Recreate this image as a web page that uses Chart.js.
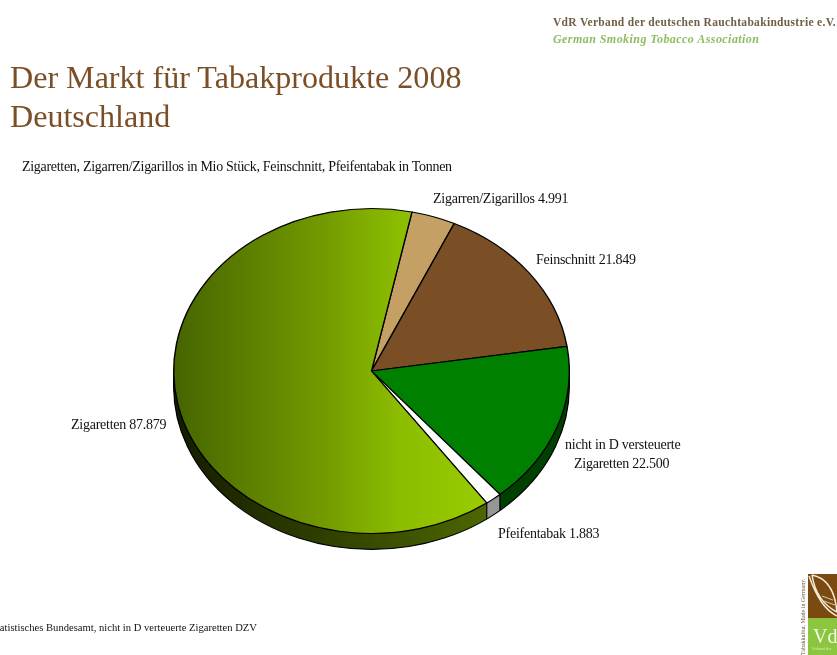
<!DOCTYPE html>
<html>
<head>
<meta charset="utf-8">
<title>Der Markt für Tabakprodukte 2008</title>
<script src="https://cdn.jsdelivr.net/npm/chart.js@4"></script>
<style>
html, body { margin: 0; padding: 0; background: #fff; overflow: hidden; }
body { width: 837px; height: 655px; position: relative; font-family: "Liberation Serif", serif; }
#wrap { position: absolute; left: 0; top: 0; width: 837px; height: 655px; }
.txt { position: absolute; white-space: nowrap; }
#head1 { left: 553px; top: 15px; font-size: 11.5px; line-height: 14px; font-weight: bold; color: #6e5f45; letter-spacing: .32px; filter: blur(.35px); }
#head2 { left: 553px; top: 32px; font-size: 12px; line-height: 14px; font-weight: bold; font-style: italic; color: #8fbc63; letter-spacing: .44px; filter: blur(.35px); }
#title { left: 10px; top: 58px; font-size: 32.1px; line-height: 38.5px; color: #7b4f26; }
#sub { left: 22px; top: 160px; font-size: 14px; line-height: 14px; color: #111; letter-spacing: -.3px; }
#source { left: -9px; top: 622px; font-size: 10.6px; line-height: 12px; color: #111; }
#logo { position: absolute; left: 795px; top: 570px; }
</style>
</head>
<body>
<div id="wrap"><canvas id="pie" width="837" height="655"></canvas></div>
<div class="txt" id="head1">VdR Verband der deutschen Rauchtabakindustrie e.V.</div>
<div class="txt" id="head2">German Smoking Tobacco Association</div>
<div class="txt" id="title">Der Markt für Tabakprodukte 2008<br>Deutschland</div>
<div class="txt" id="sub">Zigaretten, Zigarren/Zigarillos in Mio Stück, Feinschnitt, Pfeifentabak in Tonnen</div>
<div class="txt" id="source">Statistisches Bundesamt, nicht in D verteuerte Zigaretten DZV</div>
<svg id="logo" width="42" height="85" style="filter:blur(.4px)">
    <rect x="13" y="4" width="29" height="44" fill="#7b4a10"/>
    <rect x="13" y="48" width="29" height="37" fill="#8cc63f"/>
    <path d="M14 6 C22 28 30 40 42 46 M17 5 C32 8 40 20 42 42 M17 5 C20 24 30 36 42 42" fill="none" stroke="#f3ead8" stroke-width="1.5"/>
    <path d="M27 26 L38 30 M29 31 L40 35" fill="none" stroke="#d9c9a6" stroke-width="1"/>
    <text x="18" y="73" font-family="Liberation Serif" font-size="20" fill="#f4f8e6">VdR</text>
    <text x="17" y="80" font-family="Liberation Serif" font-size="4" fill="#dcebb8">Verband der</text>
    <text x="10" y="85" font-family="Liberation Serif" font-size="6" fill="#6b5a3a" transform="rotate(-90 10 85)">Tabakkultur. Made in Germany.</text>
</svg>
<script>
// 数据（数值读自原图）
var categories = ["Zigarren/Zigarillos", "Feinschnitt", "nicht in D versteuerte Zigaretten", "Pfeifentabak", "Zigaretten"];
var values = [4991, 21849, 22500, 1883, 87879];
var topColors = ["#c4a065", "#7b4f26", "#008000", "#ffffff", "gradient"];
var sideColors = ["#625033", "#3d2713", "#004000", "#969696", "gradient"];

// 标签位置（行文字的左边缘 / 基线）
var labelLines = [
    [["Zigarren/Zigarillos 4.991", 433, 203]],
    [["Feinschnitt 21.849", 536, 264]],
    [["nicht in D versteuerte", 565, 449], ["Zigaretten 22.500", 574, 468]],
    [["Pfeifentabak 1.883", 498, 538]],
    [["Zigaretten 87.879", 71, 429]]
];

var yScale = 163 / 198.5;   // 椭圆压缩比
var depth = 16;             // 饼的厚度

var canvas = document.getElementById("pie");
var ctx = canvas.getContext("2d");

var topGradient = ctx.createLinearGradient(173, 0, 490, 0);
topGradient.addColorStop(0, "#466400");
topGradient.addColorStop(0.48, "#739b00");
topGradient.addColorStop(0.72, "#8cbe00");
topGradient.addColorStop(1, "#99cc00");
var sideGradient = ctx.createLinearGradient(173, 0, 485, 0);
sideGradient.addColorStop(0, "#141c00");
sideGradient.addColorStop(1, "#4d6600");

function pick(color, gradient) {
    return color == "gradient" ? gradient : color;
}

//把饼压成椭圆并画出侧面
var tiltPlugin = {
    id: "tilt",
    beforeDatasetsDraw: function(chart) {
        var c = chart.ctx;
        var arcs = chart.getDatasetMeta(0).data;
        var cx = arcs[0].x, cy = arcs[0].y, r = arcs[0].outerRadius;

        function squash(offset) {
            c.translate(0, cy + offset);
            c.scale(1, yScale);
            c.translate(0, -cy);
        }

        c.save();
        for(var d = depth; d >= 1; d--) {
            arcs.forEach(function(arc, i) {
                c.save();
                squash(d);
                c.beginPath();
                c.moveTo(cx, cy);
                c.arc(cx, cy, r, arc.startAngle, arc.endAngle);
                c.closePath();
                c.fillStyle = pick(sideColors[i], sideGradient);
                c.fill();
                c.restore();
            });
        }
        // 下边缘和侧面的分界线
        c.strokeStyle = "#000";
        c.lineWidth = 1.2;
        c.save();
        squash(depth);
        c.beginPath();
        c.arc(cx, cy, r, 0, Math.PI);
        c.restore();
        c.stroke();
        arcs.forEach(function(arc) {
            var a = arc.startAngle;
            if(Math.sin(a) > 0) {
                var px = cx + r * Math.cos(a);
                var py = cy + r * Math.sin(a) * yScale;
                c.beginPath();
                c.moveTo(px, py);
                c.lineTo(px, py + depth);
                c.stroke();
            }
        });
        c.beginPath();
        c.moveTo(cx - r, cy);
        c.lineTo(cx - r, cy + depth);
        c.moveTo(cx + r, cy);
        c.lineTo(cx + r, cy + depth);
        c.stroke();
        c.restore();

        c.save();
        squash(0);
    },
    afterDatasetsDraw: function(chart) {
        var c = chart.ctx;
        c.restore();
        c.save();
        c.font = "14px 'Liberation Serif'";
        c.letterSpacing = "-0.25px";
        c.fillStyle = "#111";
        c.textBaseline = "alphabetic";
        labelLines.forEach(function(lines) {
            lines.forEach(function(line) {
                c.fillText(line[0], line[1], line[2]);
            });
        });
        c.restore();
    }
};

new Chart(ctx, {
    type: "pie",
    plugins: [tiltPlugin],
    data: {
        labels: categories,
        datasets: [{
            data: values,
            backgroundColor: topColors.map(function(color) { return pick(color, topGradient); }),
            borderColor: "#000",
            borderWidth: 1.4,
            clip: false
        }]
    },
    options: {
        responsive: false,
        animation: false,
        rotation: 11.8,
        layout: {
            padding: { left: 173, right: 267, top: 172.5, bottom: 85.5 }
        },
        plugins: {
            legend: { display: false },
            tooltip: { enabled: false }
        }
    }
});
</script>
</body>
</html>
